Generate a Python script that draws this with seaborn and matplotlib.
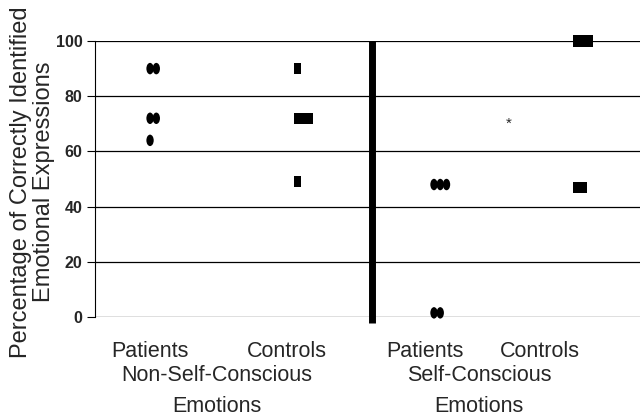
import numpy as np
import pandas as pd
import seaborn as sns
import matplotlib
import matplotlib.pyplot as plt
from matplotlib.path import Path
from matplotlib.transforms import Affine2D, blended_transform_factory

sns.set_style('white')
plt.rcParams['font.family'] = ['Liberation Sans', 'DejaVu Sans']

# data
nsc_patients = [90, 90, 72, 72, 64]
nsc_controls = [90, 72, 72, 72, 49]
sc_patients = [48, 48, 48, 1.5, 1.5]
sc_controls = [100, 100, 100, 47, 47]

group_names = ['Patients', 'Controls', 'Patients', 'Controls']
group_values = [nsc_patients, nsc_controls, sc_patients, sc_controls]
group_shape = ['dot', 'square', 'dot', 'square']
section_labels = ['Non-Self-Conscious\nEmotions', 'Self-Conscious\nEmotions']
yticks = [0, 20, 40, 60, 80, 100]
star_value = 70

# layout (x axis in arbitrary units 0..10)
group_pos = [1.01, 3.71, 6.22, 8.84]
label_pos = [1.0, 3.52, 6.06, 8.17]
section_pos = [2.24, 7.05]
star_pos = 7.6
divider_pos = 5.08
step = 0.115

rows = []
for i, vals in enumerate(group_values):
    seen = {}
    for v in vals:
        k = seen.get(v, 0)
        seen[v] = k + 1
        rows.append({'x': group_pos[i] + k * step, 'value': v, 'shape': group_shape[i]})
df = pd.DataFrame(rows)

ellipse = Path.unit_circle().transformed(Affine2D().scale(0.64, 1.0))
rect = Path([(-0.32, -0.5), (0.32, -0.5), (0.32, 0.5), (-0.32, 0.5), (-0.32, -0.5)],
            [Path.MOVETO, Path.LINETO, Path.LINETO, Path.LINETO, Path.CLOSEPOLY])

fig = plt.figure(figsize=(6.4, 4.19), dpi=100)
ax = fig.add_axes([95 / 640, 102 / 419, 545 / 640, 276 / 419])

for y in yticks:
    ax.axhline(y, color='black', linewidth=0.9, zorder=1)

sns.scatterplot(data=df[df['shape'] == 'dot'], x='x', y='value', marker=ellipse,
                s=68, color='black', edgecolor='none', ax=ax, zorder=3, clip_on=False)
sns.scatterplot(data=df[df['shape'] == 'square'], x='x', y='value', marker=rect,
                s=68, color='black', edgecolor='none', ax=ax, zorder=3, clip_on=False)

ax.axvline(divider_pos, ymin=-0.02, ymax=1.0, color='black', linewidth=5,
           solid_capstyle='butt', clip_on=False, zorder=4)
ax.text(star_pos, star_value, '*', ha='center', va='center', fontsize=11)

ax.set_xlim(0, 10)
ax.set_ylim(0, 100)
ax.set_yticks(yticks)
ax.set_yticklabels([str(t) for t in yticks], fontweight='bold', fontsize=11.5)
ax.tick_params(axis='y', length=6, width=0.8, color='black', pad=3, left=True)
ax.set_xticks(label_pos)
ax.set_xticklabels(group_names, fontsize=15.5)
ax.tick_params(axis='x', length=0, pad=17)
ax.set_xlabel('')
ax.set_ylabel('Percentage of Correctly Identified\nEmotional Expressions',
              fontsize=17, linespacing=1.05)
ax.yaxis.set_label_coords(-0.074, 0.49)

for s in ['top', 'right', 'bottom']:
    ax.spines[s].set_visible(False)
ax.spines['left'].set_color('black')
ax.spines['left'].set_linewidth(0.8)

trans = blended_transform_factory(ax.transData, ax.transAxes)
for xp, lab in zip(section_pos, section_labels):
    ax.text(xp, -0.175, lab, ha='center', va='top', fontsize=15.5, linespacing=1.6,
            transform=trans)

fig.savefig('out.png', dpi=100)
